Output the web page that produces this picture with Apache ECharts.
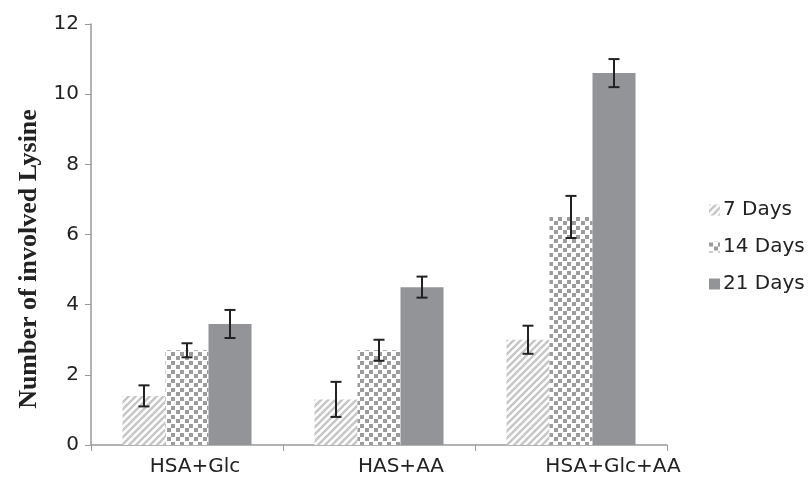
<!DOCTYPE html>
<html>
<head>
<meta charset="utf-8">
<script src="https://cdn.jsdelivr.net/npm/echarts@6/dist/echarts.min.js"></script>
<style>
  html, body { margin: 0; padding: 0; background: #fff; }
  #chart { width: 809px; height: 487px; }
</style>
</head>
<body>
<div id="chart"></div>
<script>
// Data
const categories = ['HSA+Glc', 'HAS+AA', 'HSA+Glc+AA'];
const seriesNames = ['7 Days', '14 Days', '21 Days'];
const days7 = [1.4, 1.3, 3.0];
const days14 = [2.7, 2.7, 6.5];
const days21 = [3.45, 4.5, 10.6];
const err7 = [0.3, 0.5, 0.4];
const err14 = [0.2, 0.3, 0.6];
const err21 = [0.4, 0.3, 0.4];
const yTicks = [0, 2, 4, 6, 8, 10, 12];
const yTitle = 'Number of involved Lysine';

const sansFont = 'DejaVu Sans, Liberation Sans, Arial, sans-serif';
// left padding per category label (labels sit a little right of their slot)
const labelShift = [16, 44, 84];

// Fill patterns
function stripePattern() {
  const c = document.createElement('canvas');
  c.width = 7; c.height = 7;
  const g = c.getContext('2d');
  g.fillStyle = '#ffffff';
  g.fillRect(0, 0, 7, 7);
  g.strokeStyle = '#c6c6c6';
  g.lineWidth = 2.4;
  g.beginPath();
  g.moveTo(-2, 9); g.lineTo(9, -2);
  g.moveTo(-2, 2); g.lineTo(2, -2);
  g.moveTo(5, 9); g.lineTo(9, 5);
  g.stroke();
  return c;
}
function dotPattern() {
  const c = document.createElement('canvas');
  c.width = 9; c.height = 9;
  const g = c.getContext('2d');
  g.fillStyle = '#ffffff';
  g.fillRect(0, 0, 9, 9);
  g.fillStyle = '#9c9c9c';
  g.fillRect(0, 1, 4, 4);
  g.fillRect(5, 5, 4, 4);
  return c;
}

const fills = [
  { image: stripePattern(), repeat: 'repeat' },
  { image: dotPattern(), repeat: 'repeat' },
  '#939498'
];
const values = [days7, days14, days21];
const errors = [err7, err14, err21];
const barW = 43;

const barSeries = seriesNames.map((name, i) => ({
  name: name,
  type: 'bar',
  data: values[i],
  barWidth: barW,
  barGap: '0%',
  itemStyle: { color: fills[i] },
  z: 2
}));

const errSeries = seriesNames.map((name, i) => ({
  type: 'custom',
  name: name + ' error',
  data: values[i].map((v, k) => [k, v - errors[i][k], v + errors[i][k]]),
  z: 5,
  renderItem: function (params, api) {
    const k = api.value(0);
    const lo = api.coord([k, api.value(1)]);
    const hi = api.coord([k, api.value(2)]);
    const x = lo[0] + (i - 1) * barW;
    const cap = 5.5;
    const style = { stroke: '#222', lineWidth: 2, fill: null };
    return {
      type: 'group',
      children: [
        { type: 'line', shape: { x1: x, y1: hi[1], x2: x, y2: lo[1] }, style: style },
        { type: 'line', shape: { x1: x - cap, y1: hi[1], x2: x + cap, y2: hi[1] }, style: style },
        { type: 'line', shape: { x1: x - cap, y1: lo[1], x2: x + cap, y2: lo[1] }, style: style }
      ]
    };
  }
}));

const chart = echarts.init(document.getElementById('chart'), null, { renderer: 'canvas' });
chart.setOption({
  animation: false,
  backgroundColor: '#ffffff',
  grid: { left: 91, right: 142, top: 24, bottom: 42 },
  legend: {
    data: seriesNames,
    orient: 'vertical',
    left: 704,
    top: 195,
    itemGap: 17,
    itemWidth: 11,
    itemHeight: 11,
    icon: 'rect',
    textStyle: { fontFamily: sansFont, fontSize: 20, color: '#222', padding: [0, 0, 0, -2] }
  },
  graphic: [{
    type: 'text',
    x: 29,
    y: 259,
    rotation: Math.PI / 2,
    style: {
      text: yTitle,
      fontFamily: 'Liberation Serif, Times New Roman, serif',
      fontWeight: 'bold',
      fontSize: 26,
      fill: '#222',
      align: 'center',
      verticalAlign: 'middle'
    }
  }],
  xAxis: {
    type: 'category',
    data: categories.map((c, k) => ({ value: c, textStyle: { padding: [0, 0, 0, labelShift[k]] } })),
    axisLine: { lineStyle: { color: '#9a9a9a', width: 1.5 } },
    axisTick: { show: true, alignWithLabel: false, length: 6, lineStyle: { color: '#9a9a9a' } },
    axisLabel: { fontFamily: sansFont, fontSize: 20, color: '#222', margin: 12 }
  },
  yAxis: {
    type: 'value',
    min: yTicks[0],
    max: yTicks[yTicks.length - 1],
    interval: 2,
    axisLine: { show: true, lineStyle: { color: '#9a9a9a', width: 1.5 } },
    axisTick: { show: true, length: 6, lineStyle: { color: '#9a9a9a' } },
    splitLine: { show: false },
    axisLabel: { fontFamily: sansFont, fontSize: 20, color: '#222', margin: 12 }
  },
  series: barSeries.concat(errSeries)
});
</script>
</body>
</html>
